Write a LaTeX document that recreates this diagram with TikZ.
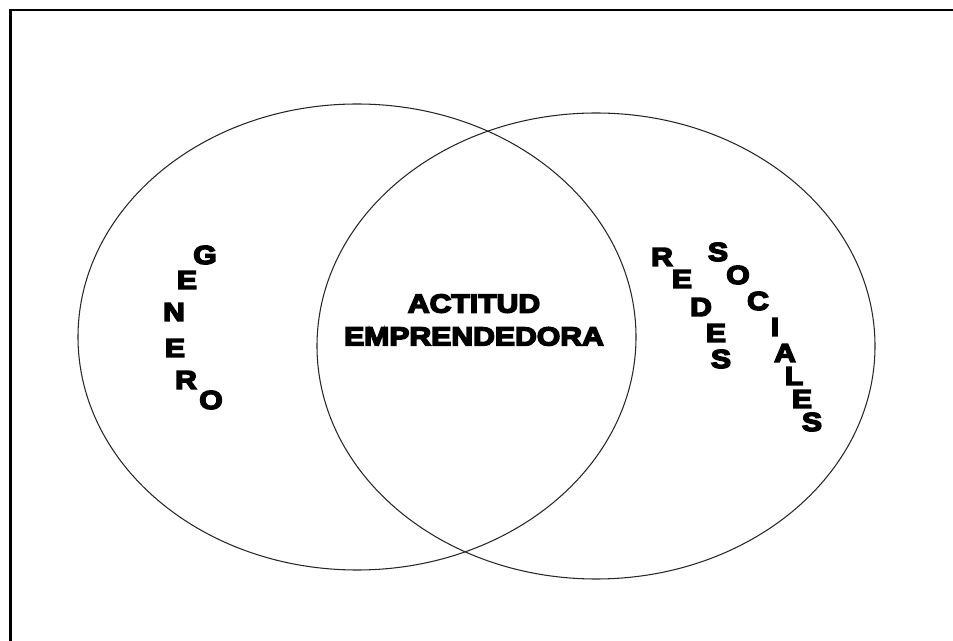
\documentclass[tikz,border=0pt]{standalone}
\usepackage{fontspec}
\newfontfamily\blk{Liberation Sans Bold}[FakeStretch=1.16,FakeBold=6]
\begin{document}
\begin{tikzpicture}[x=0.02cm,y=-0.02cm,
  letter/.style={inner sep=0pt,font=\blk\fontsize{14.8}{16}\selectfont},
  venn/.style={draw=black!85,line width=0.6pt},
  frame/.style={draw=black,line width=1.2pt}]
\useasboundingbox (0,0) rectangle (953,641);
\clip (0,0) rectangle (953,641);
\draw[frame] (10.5,10) rectangle (990,680);
% sets
\draw[venn] (357,337) ellipse [x radius=279,y radius=233];
\draw[venn] (596,346) ellipse [x radius=279,y radius=233];
% centre
\node[letter,align=center,font=\blk\fontsize{14.8}{18.7}\selectfont] (ae) at (474,320) {ACTITUD\\EMPRENDEDORA};
% GENERO
\node[letter] (g1) at (205,255) {G};
\node[letter] (g2) at (187,280) {E};
\node[letter] (g3) at (174,312) {N};
\node[letter] (g4) at (175,348) {E};
\node[letter] (g5) at (186,380) {R};
\node[letter] (g6) at (211,400) {O};
% REDES
\node[letter] (r1) at (662,257) {R};
\node[letter] (r2) at (682,279) {E};
\node[letter] (r3) at (701,307) {D};
\node[letter] (r4) at (716,333) {E};
\node[letter] (r5) at (721,359) {S};
% SOCIALES
\node[letter] (s1) at (718,252) {S};
\node[letter] (s2) at (738,275) {O};
\node[letter] (s3) at (758,301) {C};
\node[letter] (s4) at (775,327) {I};
\node[letter] (s5) at (785,353) {A};
\node[letter] (s6) at (794,376) {L};
\node[letter] (s7) at (802,399) {E};
\node[letter] (s8) at (812,422) {S};
\end{tikzpicture}
\end{document}
